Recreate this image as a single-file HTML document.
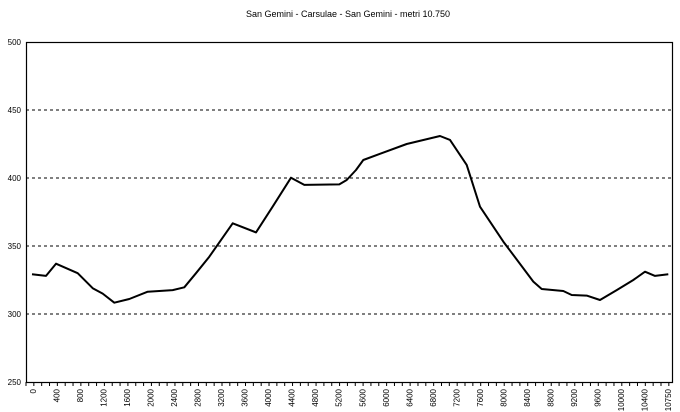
<!DOCTYPE html>
<html><head><meta charset="utf-8"><style>
html,body{margin:0;padding:0;background:#fff;}
svg{display:block;font-family:"Liberation Sans",sans-serif;}
</style></head><body>
<svg id="chart" width="680" height="412" viewBox="0 0 680 412">
<text x="348" y="17" font-size="9" text-anchor="middle" fill="#000">San Gemini - Carsulae - San Gemini - metri 10.750</text>
<g id="grid"></g><g id="axes"></g><g id="series"></g>
</svg>
<script>
const xLabels=["0","400","800","1200","1600","2000","2400","2800","3200","3600","4000","4400","4800","5200","5600","6000","6400","6800","7200","7600","8000","8400","8800","9200","9600","10000","10400","10750"];
const yTicks=[250,300,350,400,450,500];
const distances=[0,236,405,771,1024,1193,1389,1642,1953,2374,2570,2768,2992,3387,3780,4062,4371,4595,5186,5311,5468,5591,6323,6885,7054,7336,7560,7954,8460,8602,8966,9108,9361,9586,9868,10148,10345,10514,10738];
const elevations=[329.2,328,337,330,319,315,308.3,311,316.4,317.6,319.6,330,342.1,366.7,360,379,400.2,394.9,395.3,398.5,405.9,413.2,425,430.9,428,409.6,378.9,353.2,323.8,318.4,316.9,314,313.5,310.3,317.6,325,331.1,328,329.2];
const NS="http://www.w3.org/2000/svg";
const L=26,R=673,T=42,B=382;
const yS=v=>T+(500-v)*(B-T)/250;
const xS=d=>32+d*(669-32)/10750;
const lx=i=>33+i*(668-33)/(xLabels.length-1);
function mk(t,a,p){const e=document.createElementNS(NS,t);for(const k in a)e.setAttribute(k,a[k]);p.appendChild(e);return e;}
const grid=document.getElementById('grid'),axes=document.getElementById('axes'),series=document.getElementById('series');
yTicks.forEach(v=>{
 const y=yS(v);
 if(v>250&&v<500){const g=mk('line',{x1:L,x2:R,y1:y,y2:y,stroke:'#000','stroke-width':1,'stroke-dasharray':'3,3'},grid);
 
 }
 const t=mk('text',{x:L-5,y:y+3,'font-size':8,'text-anchor':'end',fill:'#000'},axes);t.textContent=v;
 
 
});
const box=mk('rect',{x:L+0.5,y:T+0.5,width:R-L-1,height:B-T,fill:'none',stroke:'#000','stroke-width':1.2},axes);


const step=(668-33)/(xLabels.length-1)/3;
for(let x=L;x<=R+0.1;x+=step){const tk=mk('line',{x1:x,x2:x,y1:B,y2:B+4,stroke:'#000','stroke-width':1},axes);
 
 }
xLabels.forEach((s,i)=>{const x=lx(i);
 const t=mk('text',{x:0,y:0,'font-size':8,'text-anchor':'end',fill:'#000',transform:`translate(${x+3},${B+7}) rotate(-90)`},axes);t.textContent=s;
 
 
});
const pts=distances.map((d,i)=>xS(d).toFixed(1)+','+yS(elevations[i]).toFixed(1)).join(' ');
const pl=mk('polyline',{points:pts,fill:'none',stroke:'#000','stroke-width':2,'stroke-linejoin':'round'},series);


</script>
</body></html>
